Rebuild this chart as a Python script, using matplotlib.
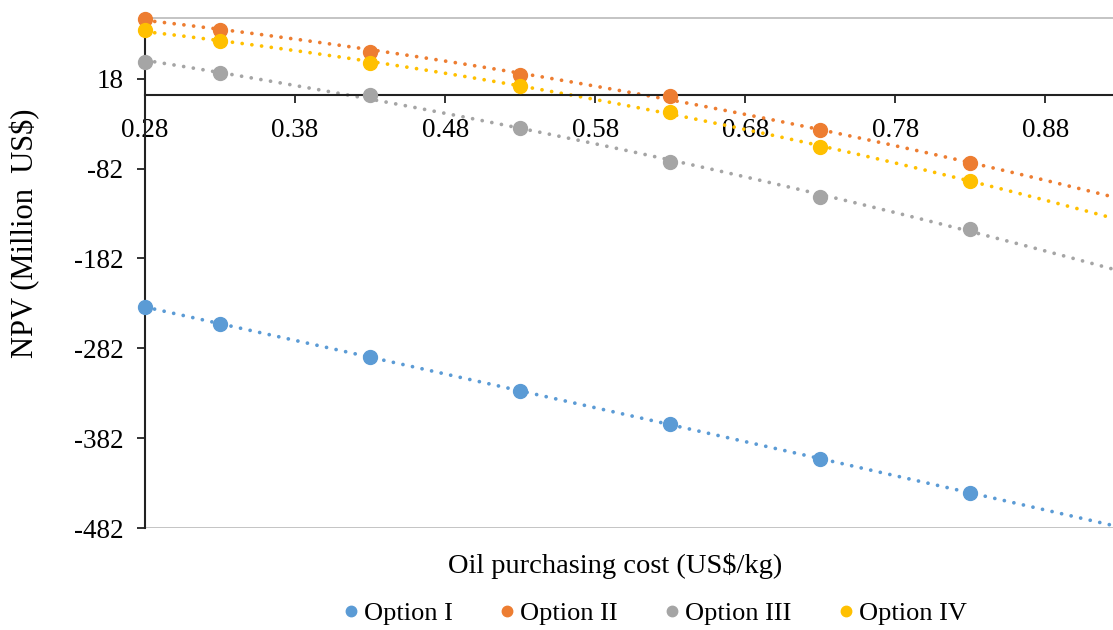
import numpy as np
import matplotlib
matplotlib.use("Agg")
import matplotlib.pyplot as plt

plt.rcParams['font.family'] = ['Liberation Serif', 'DejaVu Serif']

# oil purchasing cost (US$/kg)
cost = [0.28, 0.33, 0.43, 0.53, 0.63, 0.73, 0.83]

# NPV (million US$)
option_1 = [-235.7, -255.0, -292.0, -329.4, -366.4, -405.3, -442.8]
option_2 = [84.7, 72.4, 47.6, 22.4, -0.9, -39.4, -76.4]
option_3 = [36.9, 24.3, -0.5, -36.8, -74.6, -113.5, -149.8]
option_4 = [71.7, 59.4, 35.4, 10.2, -19.0, -57.9, -96.1]

labels = ["Option I", "Option II", "Option III", "Option IV"]
colors = ["#5B9BD5", "#ED7D31", "#A5A5A5", "#FFC000"]

x_ticks = [0.28, 0.38, 0.48, 0.58, 0.68, 0.78, 0.88]
y_ticks = [18, -82, -182, -282, -382, -482]

W, H = 1113, 630
fig = plt.figure(figsize=(W / 100, H / 100), dpi=100)
ax = fig.add_axes([145 / W, 1 - 528 / H, 1 - 145 / W, (528 - 18) / H])

x_fit = np.linspace(0.28, 0.93, 200)
handles = []
for ys, lab, col in zip([option_1, option_2, option_3, option_4], labels, colors):
    # dotted polynomial trendline, like the Excel one
    coef = np.polyfit(cost, ys, 2)
    ax.plot(x_fit, np.polyval(coef, x_fit), color=col, lw=2.7,
            linestyle=(0, (0.01, 2.6)), dash_capstyle='round', zorder=2)
    h, = ax.plot(cost, ys, 'o', color=col, ms=10, zorder=3,
                 clip_on=False, label=lab)
    handles.append(h)

ax.set_xlim(0.28, 0.925)
ax.set_ylim(-482, 85.5)

ax.set_xticks(x_ticks)
ax.set_xticklabels(["%.2f" % v for v in x_ticks])
ax.set_yticks(y_ticks)
ax.set_yticklabels([str(v) for v in y_ticks])

ax.spines['right'].set_visible(False)
ax.spines['top'].set_color('#BFBFBF')
ax.spines['top'].set_linewidth(1.3)
ax.spines['left'].set_color('#222222')
ax.spines['left'].set_linewidth(1.5)
ax.spines['bottom'].set_position(('data', 0))
ax.spines['bottom'].set_color('#222222')
ax.spines['bottom'].set_linewidth(1.5)
ax.axhline(-482, color='#BFBFBF', lw=1.3, zorder=1)

ax.tick_params(axis='both', direction='out', length=5.5, width=1.3,
               color='#222222', labelsize=19.5, pad=10)
ax.tick_params(axis='x', pad=11)

fig.text(25 / W, 1 - 233 / H, "NPV (Million  US$)", rotation=90,
         ha='center', va='center', fontsize=22)
fig.text(615 / W, 1 - 566 / H, "Oil purchasing cost (US$/kg)",
         ha='center', va='center', fontsize=20.5)

fig.legend(handles=handles, labels=labels, loc='center',
           bbox_to_anchor=(655 / W, 1 - 613 / H), ncol=4, frameon=False,
           fontsize=19, markerscale=0.75, handlelength=0.6,
           handletextpad=0.2, columnspacing=1.75)

fig.savefig("out.png", dpi=100)
